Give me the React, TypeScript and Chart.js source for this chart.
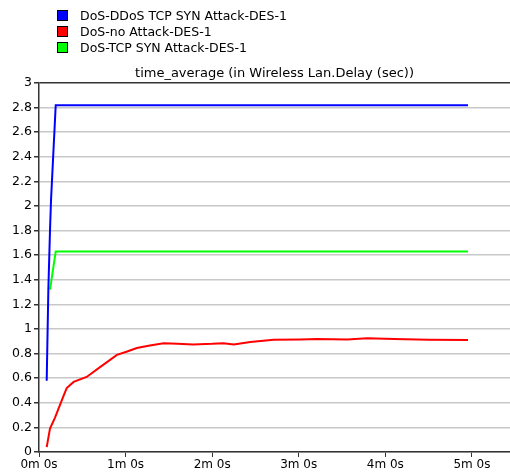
import React, { useEffect, useRef } from "react";
import { Chart, registerables } from "chart.js";

Chart.register(...registerables);

const seriesLabels = ["DoS-DDoS TCP SYN Attack-DES-1", "DoS-no Attack-DES-1", "DoS-TCP SYN Attack-DES-1"];
const seriesColors = ["#0000ff", "#ff0000", "#00ff00"];

const ddosTimes = [0.089, 0.108, 0.127, 0.139, 0.193, 4.955];
const ddosValues = [0.58, 1.32, 1.8, 2.05, 2.82, 2.82];

const noAttackTimes = [0.089, 0.127, 0.185, 0.28, 0.32, 0.4, 0.55, 0.705, 0.9, 1.01, 1.13, 1.28, 1.44, 1.6, 1.78, 2.0, 2.13, 2.25, 2.44, 2.71, 3.02, 3.21, 3.56, 3.79, 4.1, 4.5, 4.955];
const noAttackValues = [0.04, 0.19, 0.28, 0.45, 0.52, 0.57, 0.61, 0.69, 0.79, 0.815, 0.845, 0.865, 0.885, 0.88, 0.875, 0.88, 0.885, 0.875, 0.895, 0.912, 0.915, 0.918, 0.915, 0.925, 0.918, 0.912, 0.91];

const tcpSynTimes = [0.127, 0.193, 4.955];
const tcpSynValues = [1.32, 1.63, 1.63];

const titleText = "time_average (in Wireless Lan.Delay (sec))";
const xMax = 5.44;
const yMax = 3;

const FONT = "'DejaVu Sans', Verdana, sans-serif";

function toPoints(xs: number[], ys: number[]) {
  return xs.map((x, i) => ({ x, y: ys[i] }));
}

export default function App() {
  const canvasRef = useRef<HTMLCanvasElement | null>(null);

  useEffect(() => {
    document.body.style.margin = "0";
    const canvas = canvasRef.current;
    if (!canvas) return;
    const seriesData = [
      toPoints(ddosTimes, ddosValues),
      toPoints(noAttackTimes, noAttackValues),
      toPoints(tcpSynTimes, tcpSynValues),
    ];
    const chart = new Chart(canvas, {
      type: "line",
      data: {
        datasets: seriesData.map((d, i) => ({
          label: seriesLabels[i],
          data: d,
          borderColor: seriesColors[i],
          backgroundColor: seriesColors[i],
          borderWidth: 2,
          pointRadius: 0,
          tension: 0,
          fill: false,
        })),
      },
      options: {
        animation: false,
        responsive: false,
        maintainAspectRatio: false,
        layout: { padding: { left: 0, right: 0, top: 0, bottom: 0 } },
        plugins: {
          legend: { display: false },
          tooltip: { enabled: false },
          title: {
            display: true,
            text: titleText,
            fullSize: false,
            color: "#000",
            font: { family: FONT, size: 13, weight: "normal", lineHeight: 1.2 },
            padding: { top: 66, bottom: 1.4 },
          },
        },
        scales: {
          x: {
            type: "linear",
            min: 0,
            max: xMax,
            ticks: {
              stepSize: 1,
              includeBounds: false,
              color: "#000",
              font: { family: FONT, size: 12 },
              padding: 1,
              maxRotation: 0,
              callback: (v: any) => `${v}m 0s`,
            },
            grid: {
              drawOnChartArea: false,
              drawTicks: true,
              tickLength: 5,
              tickColor: "#333",
            },
            border: { display: true, color: "#333", width: 1.5 },
            afterFit: (scale: any) => {
              scale.height = 23;
            },
          },
          y: {
            type: "linear",
            min: 0,
            max: yMax,
            ticks: {
              stepSize: 0.2,
              autoSkip: false,
              color: "#000",
              font: { family: FONT, size: 12.5 },
              padding: 2,
              callback: (v: any) => String(Number(Number(v).toFixed(1))),
            },
            grid: {
              color: (ctx: any) => (ctx.tick && Math.abs(ctx.tick.value - yMax) < 1e-6 ? "#333" : "#c8c8c8"),
              lineWidth: 1.5,
              tickLength: 5,
              tickColor: "#333",
            },
            border: { display: true, color: "#333", width: 1.5 },
            afterFit: (scale: any) => {
              scale.width = 39;
            },
          },
        },
      },
    });
    return () => chart.destroy();
  }, []);

  return (
    <div style={{ position: "relative", width: 510, height: 475, background: "#fff" }}>
      <canvas ref={canvasRef} width={510} height={475} style={{ display: "block" }} />
      <div style={{ position: "absolute", left: 57, top: 7, fontFamily: FONT, fontSize: 12.5, color: "#000" }}>
        {seriesLabels.map((l, i) => (
          <div key={l} style={{ display: "flex", alignItems: "center", height: 16 }}>
            <span
              style={{
                display: "inline-block",
                width: 9,
                height: 9,
                background: seriesColors[i],
                border: "1px solid #000",
                marginRight: 12,
              }}
            />
            <span>{l}</span>
          </div>
        ))}
      </div>
    </div>
  );
}
